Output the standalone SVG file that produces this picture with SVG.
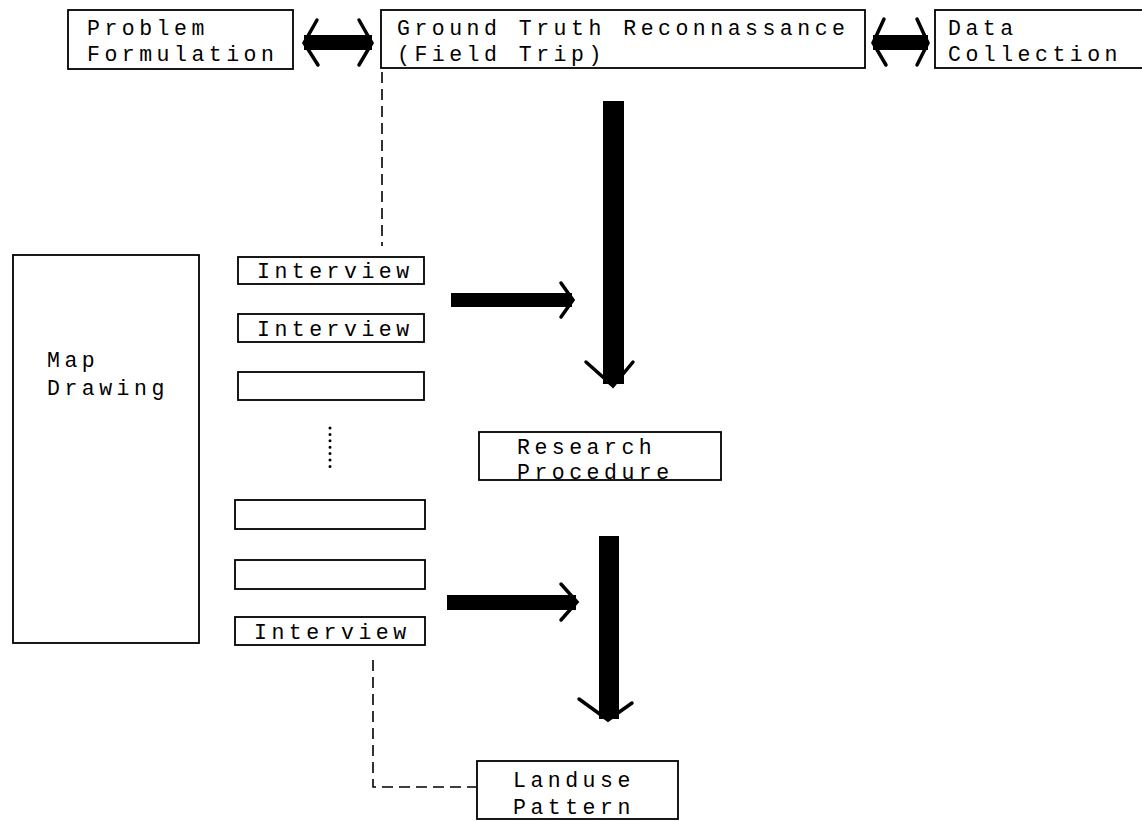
<svg xmlns="http://www.w3.org/2000/svg" width="1142" height="821" viewBox="0 0 1142 821">
<style>
.box{fill:#fff;stroke:#000;stroke-width:1.8}
.t{font-family:"Liberation Mono","Courier New",monospace;font-size:21.5px;letter-spacing:4.5px;fill:#000}
.chev{fill:none;stroke:#000;stroke-width:3.5;stroke-linecap:round;stroke-linejoin:miter}
.dash{fill:none;stroke:#000;stroke-width:1.6;stroke-dasharray:11 6}
</style>
<rect width="1142" height="821" fill="#fff"/>
<g id="connectors">
<rect x="304" y="35" width="68" height="15" fill="#000"/>
<polyline class="chev" points="317,20 304,43 318,65"/>
<polyline class="chev" points="359,20 372,43 359,65"/>
<rect x="873" y="35" width="55" height="15" fill="#000"/>
<polyline class="chev" points="884,19 873,43 886,65"/>
<polyline class="chev" points="917,19 928,43 917,65"/>
<line class="dash" x1="382" y1="72" x2="382" y2="246"/>
<rect x="451" y="293" width="121" height="14" fill="#000"/>
<polyline class="chev" points="561,283 573,300 561,317"/>
<rect x="603" y="101" width="21" height="283" fill="#000"/>
<polyline class="chev" points="586,362 613,386 633,362"/>
<rect x="447" y="595" width="129" height="15" fill="#000"/>
<polyline class="chev" points="561,584 577,602 561,620"/>
<rect x="599" y="536" width="20" height="183" fill="#000"/>
<polyline class="chev" points="579,699 608,720 632,703"/>
<line x1="330" y1="428" x2="330" y2="467" stroke="#000" stroke-width="3" stroke-linecap="round" stroke-dasharray="0 6.4"/>
<polyline class="dash" points="373,660 373,787 476,787"/>
</g>
<g id="problem-formulation">
<rect class="box" x="68" y="10" width="225" height="59"/>
<text class="t" x="87" y="35">Problem</text>
<text class="t" x="87" y="61">Formulation</text>
</g>
<g id="ground-truth">
<rect class="box" x="381" y="10" width="484" height="58"/>
<text class="t" x="397" y="35">Ground Truth Reconnassance</text>
<text class="t" x="397" y="61">(Field Trip)</text>
</g>
<g id="data-collection">
<rect class="box" x="935" y="10" width="220" height="58"/>
<text class="t" x="948" y="35">Data</text>
<text class="t" x="948" y="61">Collection</text>
</g>
<g id="map-drawing">
<rect class="box" x="13" y="255" width="186" height="388"/>
<text class="t" x="47" y="367">Map</text>
<text class="t" x="47" y="395">Drawing</text>
</g>
<g id="interview-1">
<rect class="box" x="238" y="257" width="186" height="27"/>
<text class="t" x="257" y="278">Interview</text>
</g>
<g id="interview-2">
<rect class="box" x="238" y="314" width="186" height="28"/>
<text class="t" x="257" y="336">Interview</text>
</g>
<g id="blank-1">
<rect class="box" x="238" y="372" width="186" height="28"/>
</g>
<g id="blank-2">
<rect class="box" x="235" y="500" width="190" height="29"/>
</g>
<g id="blank-3">
<rect class="box" x="235" y="560" width="190" height="29"/>
</g>
<g id="interview-3">
<rect class="box" x="235" y="617" width="190" height="28"/>
<text class="t" x="254" y="639">Interview</text>
</g>
<g id="research-procedure">
<rect class="box" x="479" y="432" width="242" height="48"/>
<text class="t" x="517" y="454">Research</text>
<text class="t" x="517" y="478.5">Procedure</text>
</g>
<g id="landuse-pattern">
<rect class="box" x="477" y="761" width="201" height="58"/>
<text class="t" x="513" y="787">Landuse</text>
<text class="t" x="513" y="814">Pattern</text>
</g>
</svg>
